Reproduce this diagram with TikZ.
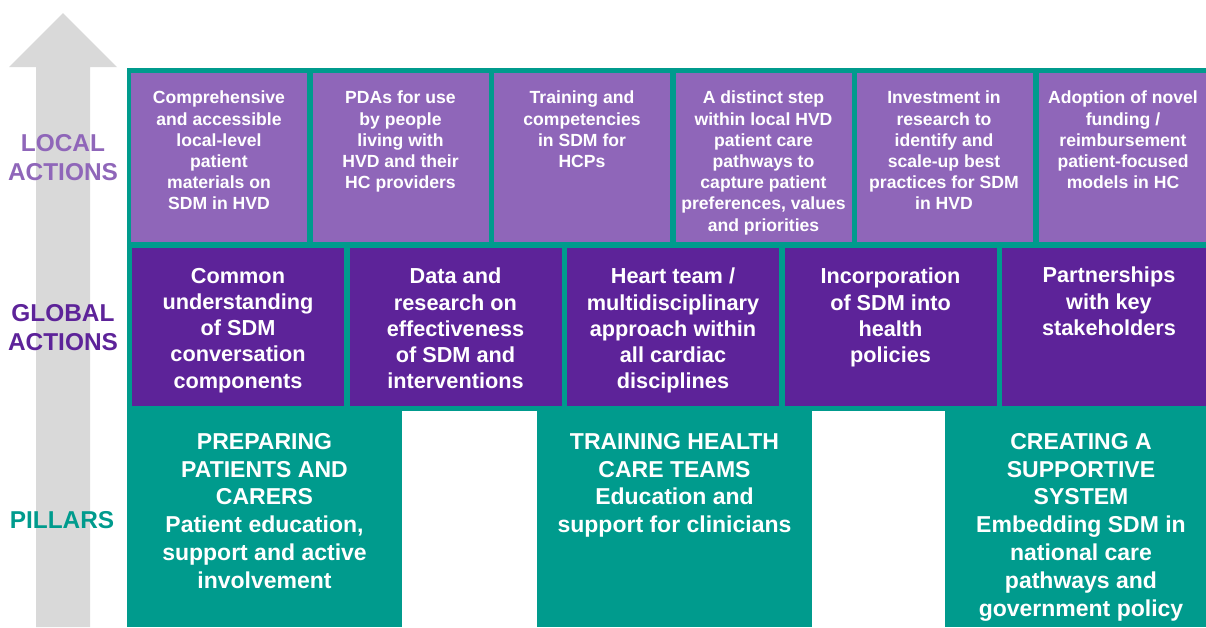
\documentclass[tikz,border=0pt]{standalone}
\usepackage{fontspec}
\setmainfont{Liberation Sans}
\definecolor{localpurple}{HTML}{8F66B9}
\definecolor{globalpurple}{HTML}{5D2399}
\definecolor{pillarteal}{HTML}{009B8D}
\definecolor{arrowgrey}{HTML}{D9D9D9}
\begin{document}
\begin{tikzpicture}[x=1pt, y=-1pt,
        box/.style = {anchor=north west, inner sep=0pt, outer sep=0pt, draw=none},
        localbox/.style = {box, fill=localpurple, minimum width=176pt, minimum height=169pt},
        globalbox/.style = {box, fill=globalpurple, minimum width=212pt, minimum height=158pt},
        boxtext/.style = {anchor=north, inner sep=0pt, align=center, text=white},
        localtext/.style = {boxtext, font=\fontsize{17.6}{21.2}\selectfont\bfseries},
        globaltext/.style = {boxtext, font=\fontsize{21.7}{26.2}\selectfont\bfseries},
        pillartext/.style = {boxtext, font=\fontsize{23}{27.8}\selectfont\bfseries},
        level/.style = {align=center, inner sep=0pt, font=\fontsize{24.4}{29}\selectfont\bfseries}]

    \useasboundingbox (0,0) rectangle (1206,627);

    % Upward arrow
    \fill[arrowgrey] (36,627) -- (36,67) -- (9,67) -- (63,13) -- (117,67) -- (90,67) -- (90,627) -- cycle;

    % Level labels
    \node[level, text=localpurple] (local) at (63,157.5) {LOCAL\\ACTIONS};
    \node[level, text=globalpurple] (global) at (63,327.5) {GLOBAL\\ACTIONS};
    \node[level, text=pillarteal] (pillars) at (62,520) {PILLARS};

    % Teal frame with gaps between the pillars
    \fill[pillarteal] (127,68) rectangle (1206,627);
    \fill[white] (402,411) rectangle (537,627);
    \fill[white] (812,411) rectangle (945,627);

    % Local actions
    \node[localbox] (L1) at (131,73) {};
    \node[localbox] (L2) at (312.5,73) {};
    \node[localbox] (L3) at (494,73) {};
    \node[localbox] (L4) at (675.5,73) {};
    \node[localbox] (L5) at (857,73) {};
    \node[localbox, minimum width=168pt] (L6) at (1038.5,73) {};

    \node[localtext] (L1t) at (219,91) {Comprehensive\\and accessible\\local-level\\patient\\materials on\\SDM in HVD};
    \node[localtext] (L2t) at (400.5,91) {PDAs for use\\by people\\living with\\HVD and their\\HC providers};
    \node[localtext] (L3t) at (582,91) {Training and\\competencies\\in SDM for\\HCPs};
    \node[localtext] (L4t) at (763.5,91) {A distinct step\\within local HVD\\patient care\\pathways to\\capture patient\\preferences, values\\and priorities};
    \node[localtext] (L5t) at (944,91) {Investment in\\research to\\identify and\\scale-up best\\practices for SDM\\in HVD};
    \node[localtext] (L6t) at (1123,91) {Adoption of novel\\funding /\\reimbursement\\patient-focused\\models in HC};

    % Global actions
    \node[globalbox] (G1) at (132,248) {};
    \node[globalbox] (G2) at (349.5,248) {};
    \node[globalbox] (G3) at (567,248) {};
    \node[globalbox] (G4) at (784.5,248) {};
    \node[globalbox, minimum width=204pt] (G5) at (1002,248) {};

    \node[globaltext] (G1t) at (238,268) {Common\\understanding\\of SDM\\conversation\\components};
    \node[globaltext] (G2t) at (455.5,268) {Data and\\research on\\effectiveness\\of SDM and\\interventions};
    \node[globaltext] (G3t) at (673,268) {Heart team /\\multidisciplinary\\approach within\\all cardiac\\disciplines};
    \node[globaltext] (G4t) at (890.5,268) {Incorporation\\of SDM into\\health\\policies};
    \node[globaltext] (G5t) at (1109,267) {Partnerships\\with key\\stakeholders};

    % Pillars
    \node[pillartext] (P1) at (264.5,433) {PREPARING\\PATIENTS AND\\CARERS\\Patient education,\\support and active\\involvement};
    \node[pillartext] (P2) at (674.5,433) {TRAINING HEALTH\\CARE TEAMS\\Education and\\support for clinicians};
    \node[pillartext] (P3) at (1081,433) {CREATING A\\SUPPORTIVE\\SYSTEM\\Embedding SDM in\\national care\\pathways and\\government policy};

\end{tikzpicture}
\end{document}
